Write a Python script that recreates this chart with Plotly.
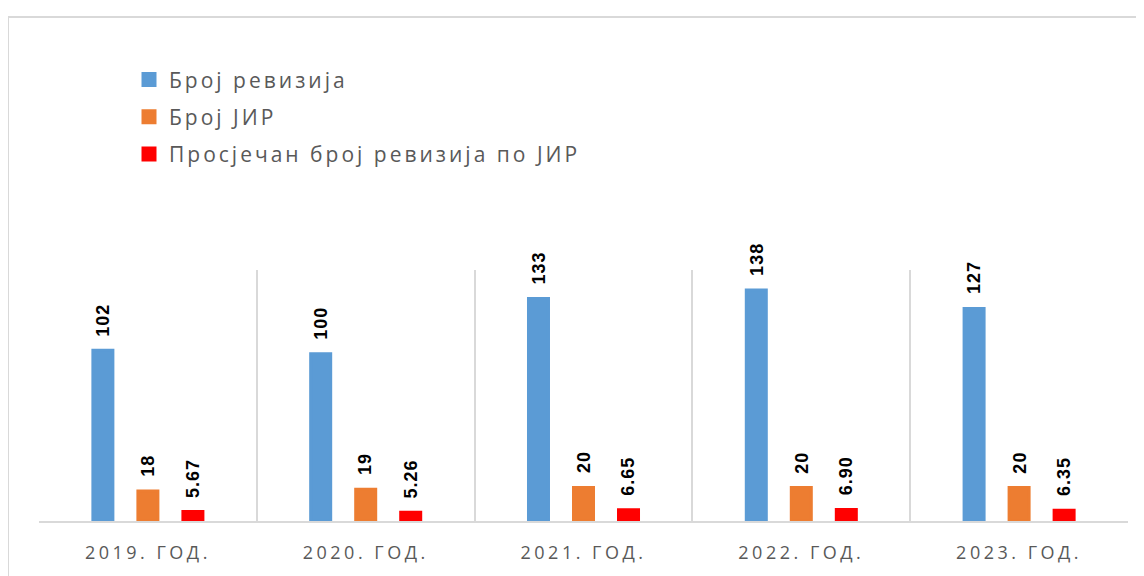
import plotly.graph_objects as go

categories = ["2019. ГОД.", "2020. ГОД.", "2021. ГОД.", "2022. ГОД.", "2023. ГОД."]
revisions = [102, 100, 133, 138, 127]
jir = [18, 19, 20, 20, 20]
avg = [5.67, 5.26, 6.65, 6.90, 6.35]
avg_labels = ["5.67", "5.26", "6.65", "6.90", "6.35"]

series = [
    ("Број ревизија", revisions, [str(v) for v in revisions], "#5B9BD5"),
    ("Број ЈИР", jir, [str(v) for v in jir], "#ED7D31"),
    ("Просјечан број ревизија по ЈИР", avg, avg_labels, "#FF0000"),
]


def spaced(s, px):
    return f'<span style="letter-spacing:{px}px">{s}</span>'


# page body has an 8px margin, so the figure is 8px smaller than the window
W, H = 1136, 568
L, R, T, B = 31, 16, 262, 51
plot_w = W - L - R
plot_h = H - T - B
LW = 3  # bar outline (same colour) -> larger legend squares

fig = go.Figure()
annotations = []
for i, (name, vals, labels, color) in enumerate(series):
    fig.add_trace(go.Bar(
        name=spaced(name, 3), x=categories, y=vals,
        marker=dict(color=color, line=dict(width=LW, color=color)),
        legendgroup=name, hoverinfo="skip",
    ))
    for c, v, lab in zip(categories, vals, labels):
        annotations.append(dict(
            x=c, y=v, xref="x", yref="y", text=spaced(lab, 1), showarrow=False,
            textangle=-90, xanchor="center", yanchor="bottom",
            xshift=(i - 1) * 45, yshift=12,
            font=dict(family="Liberation Sans", size=18, color="#000000", weight="bold"),
        ))

fig.update_layout(
    width=W, height=H,
    margin=dict(l=L, r=R, t=T, b=B),
    paper_bgcolor="white", plot_bgcolor="white",
    barmode="group", bargap=0.38, bargroupgap=1 - (23 - LW) / 45,
    showlegend=True,
    legend=dict(
        x=(121 - L) / plot_w, y=(T - 48) / plot_h + 1, xref="paper", yref="paper",
        xanchor="left", yanchor="top",
        font=dict(family="Open Sans", size=21, color="#595959"),
        tracegroupgap=7, traceorder="grouped", bgcolor="rgba(0,0,0,0)",
    ),
    xaxis=dict(
        type="category", tickson="boundaries", showgrid=True, gridcolor="#D9D9D9", gridwidth=2,
        showline=True, linecolor="#D9D9D9", linewidth=2, ticks="", ticklabelstandoff=14,
        tickfont=dict(family="Open Sans", size=18, color="#595959"),
        tickmode="array", tickvals=categories,
        ticktext=[spaced(c, 3.5) for c in categories],
        range=[-0.5, 4.5], fixedrange=True,
    ),
    yaxis=dict(range=[0, 150], showgrid=False, showticklabels=False, zeroline=False, ticks=""),
    annotations=annotations,
    shapes=[dict(
        type="rect", xref="paper", yref="paper",
        x0=(0 - L) / plot_w, x1=(W + 20 - L) / plot_w,
        y0=(H - B - 5) / plot_h, y1=-(B + 20) / plot_h,
        line=dict(color="#D9D9D9", width=2), fillcolor="rgba(0,0,0,0)", layer="below",
    )],
)

fig.write_html("out.html")
